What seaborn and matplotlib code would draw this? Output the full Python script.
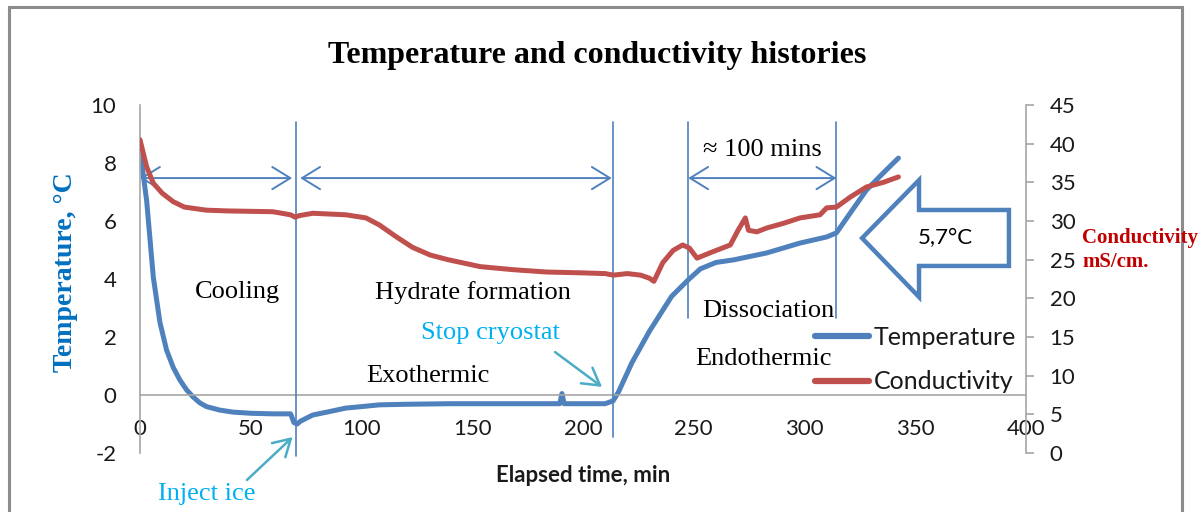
import matplotlib
matplotlib.use('Agg')
import matplotlib.pyplot as plt
from matplotlib.patches import Polygon, Rectangle
import seaborn as sns
import pandas as pd

# values
temp_time = [0, 3, 6, 9, 12, 15, 18, 21, 24, 27, 30, 36, 42, 50, 60, 68, 69.5, 71, 72.5,
             78, 85, 93, 100, 108, 120, 140, 160, 180, 189.5, 190.5, 191.5, 200, 210,
             213.6, 216, 222, 230, 240, 247.5, 253, 260, 268, 283, 298, 310, 314.4,
             320.7, 328, 335.6, 342.4]
temp_vals = [8.45, 6.7, 4.07, 2.5, 1.55, 0.95, 0.52, 0.18, -0.07, -0.27, -0.4, -0.52, -0.59,
             -0.63, -0.65, -0.65, -0.95, -1.0, -0.9, -0.69, -0.58, -0.45, -0.4, -0.34, -0.32,
             -0.3, -0.3, -0.3, -0.3, 0.05, -0.3, -0.3, -0.3, -0.2, 0.1, 1.1, 2.2, 3.4, 3.97,
             4.35, 4.57, 4.66, 4.9, 5.24, 5.45, 5.59, 6.28, 7.07, 7.66, 8.17]

cond_time = [0, 3, 6, 10, 15, 20, 30, 40, 60, 68, 70, 72, 78, 93, 102, 108, 116, 123, 131,
             139, 153.6, 168.6, 183.7, 198.7, 210, 213.7, 220, 226, 230, 232, 236, 240.7,
             245, 248, 251.5, 257.5, 266.5, 270, 273.3, 274.7, 278.5, 283, 290.5, 298, 307,
             310, 314.4, 320.7, 328, 335.6, 342.4]
cond_vals = [40.5, 37.0, 34.9, 33.6, 32.5, 31.8, 31.4, 31.3, 31.2, 30.8, 30.5, 30.7, 31.0,
             30.8, 30.4, 29.5, 27.9, 26.6, 25.6, 25.0, 24.1, 23.7, 23.4, 23.3, 23.2, 23.0,
             23.2, 23.0, 22.6, 22.2, 24.6, 26.2, 26.9, 26.5, 25.2, 25.9, 26.9, 28.8, 30.4,
             28.8, 28.6, 29.1, 29.7, 30.4, 30.8, 31.7, 31.8, 33.1, 34.4, 35.0, 35.7]

x_ticks = [0, 50, 100, 150, 200, 250, 300, 350, 400]
temp_ticks = [-2, 0, 2, 4, 6, 8, 10]
cond_ticks = [0, 5, 10, 15, 20, 25, 30, 35, 40, 45]

# phase boundaries (min) and their extent on the temperature axis
phase_times = [70.5, 213.6, 247.5, 314.4]
phase_bottoms = [-2.1, -1.45, 2.66, 2.66]
phase_top = 9.41
span_y = 7.48
spans = [(0, 68.7), (72.3, 213), (247.5, 314.4)]

BLUE = '#4F81BD'
RED = '#C0504D'
CYAN = '#00B0F0'
TEAL = '#4BACC6'
GRAY = '#A6A6A6'
SERIF = 'Liberation Serif'
SANS = 'Lato'

sns.set_theme(style='white')
plt.rcParams['font.family'] = [SANS, 'DejaVu Sans']
plt.rcParams['axes.unicode_minus'] = False

W, H = 1204, 512
fig = plt.figure(figsize=(W / 100, H / 100), dpi=100)
ax = fig.add_axes([140 / W, 59 / H, 886 / W, 348 / H])
ax2 = ax.twinx()

temp_df = pd.DataFrame({'time': temp_time, 'temp': temp_vals})
cond_df = pd.DataFrame({'time': cond_time, 'cond': cond_vals})
sns.lineplot(data=temp_df, x='time', y='temp', ax=ax, color=BLUE, lw=3.6,
             estimator=None, sort=False, legend=False)
sns.lineplot(data=cond_df, x='time', y='cond', ax=ax2, color=RED, lw=3.6,
             estimator=None, sort=False, legend=False)

ax.set_xlim(0, 400)
ax.set_ylim(-2, 10)
ax2.set_ylim(0, 45)
ax.set_xticks(x_ticks)
ax.set_yticks(temp_ticks)
ax2.set_yticks(cond_ticks)
ax.set_xlabel('')
ax.set_ylabel('')
ax2.set_ylabel('')

for s in ['top', 'right']:
    ax.spines[s].set_visible(False)
for s in ['top', 'left', 'bottom']:
    ax2.spines[s].set_visible(False)
ax.spines['bottom'].set_position(('data', 0))
ax.spines['bottom'].set_color(GRAY)
ax.spines['left'].set_color(GRAY)
ax2.spines['right'].set_color(GRAY)
for s in ['bottom', 'left']:
    ax.spines[s].set_linewidth(1.2)
ax2.spines['right'].set_linewidth(1.2)

ax.tick_params(axis='x', length=0, pad=17, labelsize=16, labelcolor='#1a1a1a')
ax.tick_params(axis='y', length=0, pad=17, labelsize=16, labelcolor='#1a1a1a')
ax2.tick_params(axis='y', right=True, length=6, width=1.2, color=GRAY, direction='out',
                pad=11, labelsize=16, labelcolor='#1a1a1a')

# phase boundaries
for t, yb in zip(phase_times, phase_bottoms):
    ax.plot([t, t], [yb, phase_top], color=BLUE, lw=1.2, clip_on=False, zorder=3)

# double headed spans
for a, b in spans:
    ax.annotate('', xy=(b, span_y), xytext=(a, span_y),
                arrowprops=dict(arrowstyle='<->,head_length=0.65,head_width=0.4',
                                color=BLUE, lw=1.4, shrinkA=0, shrinkB=0,
                                mutation_scale=20))

# phase captions
cap = dict(family=SERIF, fontsize=19, ha='center', va='center', color='black')
ax.text(44.2, 3.55, 'Cooling', **cap)
ax.text(150.3, 3.55, 'Hydrate formation', **cap)
ax.text(130, 0.66, 'Exothermic', **cap)
ax.text(283.5, 2.9, 'Dissociation', **cap)
ax.text(281.7, 1.24, 'Endothermic', **cap)
ax.text(280.8, 8.45, '\u2248 100 mins', **cap)

# event call-outs
arrow_kw = dict(arrowstyle='->,head_length=0.6,head_width=0.35', color=TEAL, lw=1.8,
                shrinkA=0, shrinkB=0, mutation_scale=20)
ax.text(30.2, -3.41, 'Inject ice', family=SERIF, fontsize=19, color=CYAN,
        ha='center', va='center', clip_on=False)
ax.annotate('', xy=(68.9, -1.45), xytext=(48.3, -2.93), annotation_clip=False,
            arrowprops=arrow_kw)
ax.text(158, 2.14, 'Stop cryostat', family=SERIF, fontsize=19, color=CYAN,
        ha='center', va='center')
ax.annotate('', xy=(208.6, 0.28), xytext=(187.4, 1.48), arrowprops=arrow_kw)

# hollow block arrow pointing at the dissociation end
block = [(326, 5.41), (351.7, 7.41), (351.7, 6.38), (392.3, 6.38),
         (392.3, 4.45), (351.7, 4.45), (351.7, 3.38)]
ax.add_patch(Polygon(block, closed=True, fill=False, edgecolor=BLUE, lw=3.2,
                     joinstyle='miter', zorder=4))
ax.text(363.4, 5.41, '5,7\u00b0C', fontsize=16, ha='center', va='center', color='black')

# legend
handles = [ax.lines[0], ax2.lines[0]]
fig.legend(handles, ['Temperature', 'Conductivity'], loc='upper left',
           bbox_to_anchor=(815 / W, 1 - 326 / H), frameon=False, fontsize=18,
           handlelength=2.15, handletextpad=0.2, labelspacing=0.85, borderpad=0,
           borderaxespad=0, labelcolor='#1a1a1a')
for ln in fig.legends[0].get_lines():
    ln.set_linewidth(4.5)

# titles and axis names
fig.text(597 / W, 1 - 63 / H, 'Temperature and conductivity histories', family=SERIF,
         fontsize=23, fontweight='bold', ha='center', va='baseline', color='black')
fig.text(66 / W, 1 - 272 / H, 'Temperature, \u00b0C', family=SERIF, fontsize=20,
         fontweight='bold', color='#0070C0', rotation=90, ha='center', va='center')
fig.text(1082 / W, 1 - 250 / H, 'Conductivity\nmS/cm.', family=SERIF, fontsize=15,
         fontweight='bold', color='#C00000', ha='left', va='center', linespacing=1.25)
fig.text(583 / W, 1 - 475 / H, 'Elapsed time, min', fontsize=16, fontweight='bold',
         ha='center', va='center', color='#1a1a1a')

# chart frame
fig.patches.append(Rectangle((9 / W, -0.05), (1182 - 9) / W, 1.05 - 7 / H,
                             transform=fig.transFigure, fill=False,
                             edgecolor='#8C8C8C', lw=2.2))

plt.savefig('out.png', dpi=100)
